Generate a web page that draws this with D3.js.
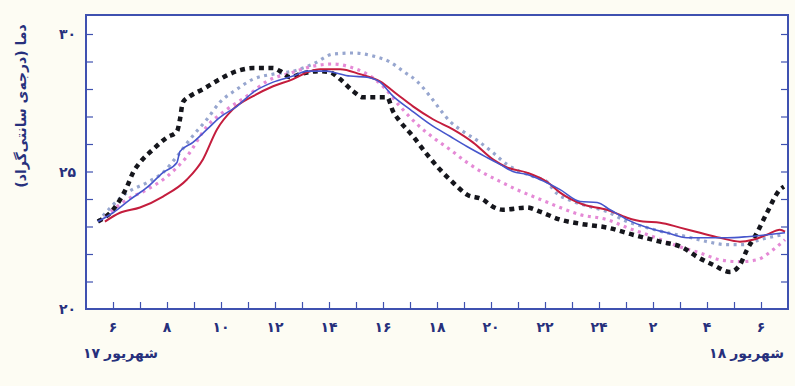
<!DOCTYPE html>
<html>
<head>
<meta charset="utf-8">
<script src="https://cdn.jsdelivr.net/npm/d3@7"></script>
<style>
  body { margin: 0; background: #fdfcf3; }
  svg { display: block; }
  text { font-family: "DejaVu Sans", sans-serif; fill: #27307c; font-weight: bold; }
</style>
</head>
<body>
<div class="chart"></div>
<script>
// Hours run on from 17 Shahrivar into 18 Shahrivar (25 = 1 o'clock next day)
let hourTicks = [6, 8, 10, 12, 14, 16, 18, 20, 22, 24, 26, 28, 30];
let tempTicks = [20, 25, 30];
let dayLabels = [["۱۷", "شهریور"], ["۱۸", "شهریور"]];

// black dotted
let blackHours = [5.44, 6.0, 6.52, 6.74, 7.0, 7.48, 8.0, 8.37, 8.48, 8.59, 8.85, 9.33, 9.96, 10.59, 11.19, 11.93, 12.19, 12.56, 12.93, 13.67, 14.04, 14.41, 14.89, 15.26, 16.15, 16.37, 16.63, 17.11, 17.63, 18.11, 18.59, 19.11, 19.7, 20.07, 20.44, 21.33, 21.81, 22.56, 23.3, 24.3, 25.26, 26.26, 27.11, 27.63, 28.22, 28.85, 29.22, 29.48, 29.85, 30.22, 30.7, 30.85];
let blackTemps = [23.18, 23.61, 24.45, 24.96, 25.33, 25.8, 26.24, 26.46, 26.9, 27.52, 27.74, 27.99, 28.36, 28.65, 28.76, 28.76, 28.65, 28.43, 28.54, 28.65, 28.61, 28.36, 27.92, 27.7, 27.7, 27.19, 26.82, 26.28, 25.62, 25.07, 24.6, 24.16, 23.98, 23.72, 23.61, 23.69, 23.54, 23.25, 23.1, 22.96, 22.7, 22.45, 22.23, 21.9, 21.61, 21.35, 21.61, 22.15, 22.77, 23.5, 24.34, 24.45];

// light blue dotted
let lightHours = [5.44, 6.52, 7.26, 7.85, 8.37, 8.85, 9.48, 9.96, 10.59, 11.19, 11.93, 12.67, 13.41, 14.15, 14.89, 15.63, 16.26, 16.74, 17.26, 17.74, 18.11, 18.48, 18.96, 19.59, 20.07, 20.59, 21.07, 21.56, 22.11, 22.3, 23.04, 23.67, 24.3, 25.04, 25.78, 26.52, 27.26, 28.0, 28.74, 29.33, 29.96, 30.8];
let lightTemps = [23.18, 24.23, 24.6, 24.96, 25.55, 26.17, 26.9, 27.52, 27.99, 28.36, 28.54, 28.65, 28.91, 29.27, 29.31, 29.2, 28.98, 28.65, 28.28, 27.74, 27.26, 26.82, 26.46, 26.06, 25.69, 25.26, 25.0, 24.82, 24.6, 24.34, 23.91, 23.72, 23.54, 23.18, 22.96, 22.77, 22.63, 22.45, 22.34, 22.34, 22.52, 22.7];

// pink dotted
let pinkHours = [5.5, 6.52, 7.26, 8.0, 8.74, 9.48, 10.22, 10.96, 11.7, 12.67, 13.41, 14.15, 14.78, 15.41, 16.0, 16.63, 17.26, 17.85, 18.48, 19.11, 19.7, 20.33, 20.96, 21.56, 22.11, 22.56, 23.3, 24.3, 25.04, 26.0, 27.0, 27.74, 28.48, 29.22, 29.85, 30.44, 30.89];
let pinkTemps = [23.18, 23.98, 24.34, 24.82, 25.55, 26.64, 27.26, 27.74, 28.28, 28.61, 28.83, 28.91, 28.8, 28.54, 28.1, 27.37, 26.72, 26.24, 25.8, 25.33, 24.96, 24.64, 24.34, 24.09, 23.87, 23.69, 23.43, 23.25, 22.96, 22.63, 22.26, 22.04, 21.79, 21.72, 21.79, 22.15, 22.52];

// red solid
let redHours = [5.7, 6.26, 7.0, 7.85, 8.74, 9.33, 9.85, 10.44, 11.19, 11.93, 12.67, 13.19, 13.67, 14.41, 15.15, 15.89, 16.52, 17.11, 17.85, 18.59, 19.33, 20.07, 20.59, 21.33, 22.11, 22.56, 23.41, 24.3, 25.04, 25.63, 26.26, 27.0, 27.74, 28.48, 29.22, 29.7, 30.22, 30.7, 30.89];
let redTemps = [23.18, 23.5, 23.69, 24.09, 24.71, 25.44, 26.53, 27.26, 27.74, 28.1, 28.36, 28.61, 28.72, 28.72, 28.54, 28.28, 27.81, 27.37, 26.9, 26.53, 26.06, 25.44, 25.15, 24.96, 24.6, 24.23, 23.8, 23.61, 23.32, 23.18, 23.14, 22.96, 22.77, 22.59, 22.45, 22.52, 22.7, 22.88, 22.81];

// blue solid
let blueHours = [5.44, 6.0, 6.63, 7.26, 7.85, 8.37, 8.48, 8.96, 9.48, 9.96, 10.59, 11.19, 11.93, 12.67, 13.19, 13.93, 14.15, 14.78, 15.41, 15.89, 16.37, 17.0, 17.74, 18.48, 19.11, 19.85, 20.33, 20.81, 21.33, 21.81, 22.56, 23.3, 23.93, 24.41, 25.04, 25.78, 26.52, 27.26, 28.0, 28.74, 29.48, 30.22, 30.89];
let blueTemps = [23.18, 23.5, 23.98, 24.42, 24.96, 25.33, 25.73, 26.06, 26.53, 26.97, 27.37, 27.88, 28.25, 28.47, 28.65, 28.65, 28.61, 28.47, 28.43, 28.25, 27.74, 27.26, 26.72, 26.28, 25.91, 25.51, 25.26, 25.0, 24.89, 24.71, 24.34, 23.91, 23.87, 23.61, 23.25, 22.96, 22.77, 22.59, 22.59, 22.59, 22.63, 22.7, 22.77];

let svgWidth = 795;
let svgHeight = 386;
let margin = {top: 15, right: 7, bottom: 77, left: 86};
let width = svgWidth - margin.left - margin.right;
let height = svgHeight - margin.top - margin.bottom;
let frameColor = "#3f51b0";

function toFa(n) {
  return String(n).replace(/\d/g, d => "۰۱۲۳۴۵۶۷۸۹"[d]);
}

let svg = d3.select(".chart").append("svg")
  .attr("width", svgWidth)
  .attr("height", svgHeight);

let chartGroup = svg.append("g")
  .attr("transform", `translate(${margin.left}, ${margin.top})`);

let xScale = d3.scaleLinear().domain([5, 31]).range([0, width]);
let yScale = d3.scaleLinear().domain([20, 30]).range([height, height - 10 * 27.5]);

// plot background
chartGroup.append("rect")
  .attr("width", width)
  .attr("height", height)
  .attr("fill", "#ffffff");

// inner ticks, one per hour and one per degree
let hourMinor = d3.range(6, 31);
let degMinor = d3.range(21, 31);

chartGroup.append("g")
  .attr("transform", `translate(0, ${height})`)
  .call(d3.axisTop(xScale).tickValues(hourMinor).tickSize(7).tickFormat(""))
  .call(g => g.select(".domain").remove())
  .selectAll("line").attr("stroke", frameColor).attr("stroke-width", 1.2);

chartGroup.append("g")
  .call(d3.axisRight(yScale).tickValues(degMinor).tickSize(7).tickFormat(""))
  .call(g => g.select(".domain").remove())
  .selectAll("line").attr("stroke", frameColor).attr("stroke-width", 1.2);

chartGroup.append("g")
  .attr("transform", `translate(${width}, 0)`)
  .call(d3.axisLeft(yScale).tickValues(degMinor).tickSize(7).tickFormat(""))
  .call(g => g.select(".domain").remove())
  .selectAll("line").attr("stroke", frameColor).attr("stroke-width", 1.2);

// series lines
let series = [
  {hours: lightHours, temps: lightTemps, color: "#97a6cf", width: 3.2, dash: "3,4.5"},
  {hours: pinkHours, temps: pinkTemps, color: "#e58ad6", width: 3.2, dash: "3,4.5"},
  {hours: blackHours, temps: blackTemps, color: "#15161c", width: 4.5, dash: "5,4.5"},
  {hours: redHours, temps: redTemps, color: "#c41d3d", width: 2, dash: null},
  {hours: blueHours, temps: blueTemps, color: "#4656cc", width: 1.6, dash: null}
];

let line = d3.line()
  .x(d => xScale(d[0]))
  .y(d => yScale(d[1]))
  .curve(d3.curveMonotoneX);

series.forEach(function(s) {
  chartGroup.append("path")
    .datum(d3.zip(s.hours, s.temps))
    .attr("d", line)
    .attr("fill", "none")
    .attr("stroke", s.color)
    .attr("stroke-width", s.width)
    .attr("stroke-dasharray", s.dash)
    .attr("stroke-linejoin", "round");
});

// frame
chartGroup.append("rect")
  .attr("width", width)
  .attr("height", height)
  .attr("fill", "none")
  .attr("stroke", frameColor)
  .attr("stroke-width", 2);

// tick labels
chartGroup.selectAll(".xlab")
  .data(hourTicks)
  .enter()
  .append("text")
  .attr("class", "xlab")
  .attr("x", d => xScale(d))
  .attr("y", height + 23)
  .attr("text-anchor", "middle")
  .style("font-size", "14px")
  .text(d => toFa(d > 24 ? d - 24 : d));

chartGroup.selectAll(".ylab")
  .data(tempTicks)
  .enter()
  .append("text")
  .attr("class", "ylab")
  .attr("x", -10)
  .attr("y", d => yScale(d) + 5)
  .attr("text-anchor", "end")
  .style("font-size", "14px")
  .text(d => toFa(d));

// day labels: number and month name as separate pieces, number on the left
let dayY = 358;
let leftNum = svg.append("text")
  .attr("x", 83).attr("y", dayY)
  .style("font-size", "14px")
  .text(dayLabels[0][0]);
svg.append("text")
  .attr("x", 83 + leftNum.node().getComputedTextLength() + 4).attr("y", dayY)
  .style("font-size", "14px")
  .text(dayLabels[0][1]);

let rightWord = svg.append("text")
  .attr("x", 784).attr("y", dayY)
  .attr("text-anchor", "end")
  .style("font-size", "14px")
  .text(dayLabels[1][1]);
svg.append("text")
  .attr("x", 784 - rightWord.node().getComputedTextLength() - 4).attr("y", dayY)
  .attr("text-anchor", "end")
  .style("font-size", "14px")
  .text(dayLabels[1][0]);

// y axis title
svg.append("text")
  .attr("transform", "translate(26, 106) rotate(-90)")
  .attr("text-anchor", "middle")
  .attr("direction", "rtl")
  .style("font-size", "14px")
  .text("دما (درجه‌ی سانتی‌گراد)");
</script>
</body>
</html>
